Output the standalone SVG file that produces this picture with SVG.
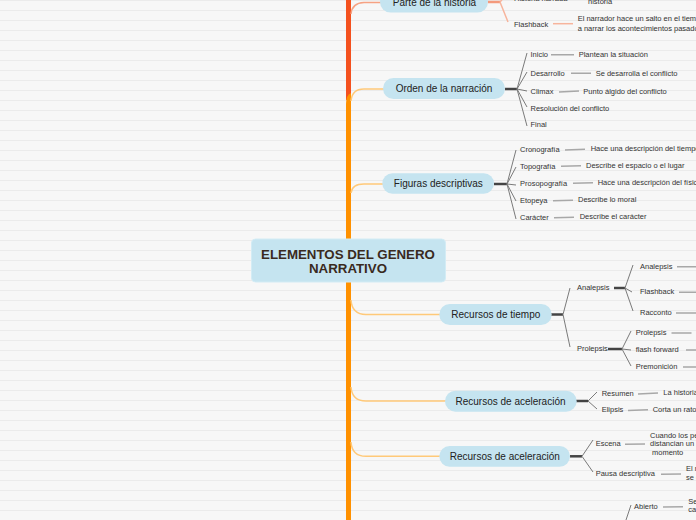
<svg xmlns="http://www.w3.org/2000/svg" width="696" height="520" viewBox="0 0 696 520">
<defs>
<pattern id="bgp" width="696" height="10" patternUnits="userSpaceOnUse"><rect width="696" height="10" fill="#f7f7f7"/><rect width="696" height="1" fill="#ebebeb"/></pattern>
</defs>
<style>
text{font-family:"Liberation Sans",Arial,sans-serif;fill:#333}
.s{font-size:7.5px}
.p{font-size:10px;fill:#222;text-anchor:middle}
.t{font-size:13.3px;font-weight:bold;fill:#3a2a1e;text-anchor:middle}
.pill{fill:#c5e4f0}
.br{fill:none;stroke:#ffc979;stroke-width:1.5}
.brr{fill:none;stroke:#f6a283;stroke-width:1.5}
.thk{fill:none;stroke:#444;stroke-width:2.5}
.fan{fill:none;stroke:#7a7a7a;stroke-width:1}
.dc{fill:none;stroke:#a8a8a8;stroke-width:1.5}
.dcr{fill:none;stroke:#f7b49c;stroke-width:1.5}
</style>
<rect width="696" height="520" fill="url(#bgp)"/>
<g id="connectors">
<rect x="346" y="0" width="5" height="100" fill="#f4511e"/>
<path d="M346,520 L346,104 Q346,95 351,93 L351,520 Z" fill="#ff9100"/>
<path class="brr" d="M351,14 Q352,3 364,2.5 L381,2.5"/>
<path class="br" d="M351,101 Q352,89 364,89 L384,89"/>
<path class="br" d="M351,193 Q352,184 364,184 L383,184"/>
<path class="br" d="M351,300 Q352,314.5 366,314.5 L440,314.5"/>
<path class="br" d="M351,387 Q352,401 366,401 L446,401"/>
<path class="br" d="M351,442 Q352,456.3 366,456.3 L440,456.3"/>
<path d="M488,2 L500,2" fill="none" stroke="#f49a7c" stroke-width="2.5"/>
<path class="dcr" d="M500,2 L508,22 M500,2 L506,-5"/>
<path class="dcr" d="M553,23.7 L573,23.7"/>
<path class="thk" d="M505,89 L517,89"/>
<path class="fan" d="M517,89 L527,53 M517,89 L527,72 M517,89 L527,91 M517,89 L527,107 M517,89 L527,126"/>
<path class="dc" d="M551,54.7 L574,54.7 M571,73.3 L591,73.3 M559,92 L579,91"/>
<path class="thk" d="M494,184 L507,184"/>
<path class="fan" d="M507,184 L516,150 M507,184 L516,167 M507,184 L516,185 M507,184 L516,201 M507,184 L516,219"/>
<path class="dc" d="M565,150 L585,149.3 M561,166.3 L581,165.7 M573,183.3 L593,182.7 M553,200.7 L573,200.3 M554,217.7 L574,217.3"/>
<path class="thk" d="M551,314.5 L563,314.5"/>
<path class="fan" d="M563,314.5 L570,288 M563,314.5 L570,347"/>
<path class="thk" d="M614,288 L625,288"/>
<path class="fan" d="M625,288 L633,265 M625,288 L632,292 M625,288 L633,311"/>
<path class="dc" d="M677,266.7 L696,266.7 M679,292.3 L696,292.3 M676,313 L696,313"/>
<path class="thk" d="M608,349 L622,349"/>
<path class="fan" d="M622,349 L631,331 M622,349 L631,350 M622,349 L631,366"/>
<path class="dc" d="M671.5,333 L691.5,333 M686,350 L696,350 M683,367 L696,367"/>
<path class="thk" d="M576,401 L588,401"/>
<path class="fan" d="M588,401 L597,392 M588,401 L597,409"/>
<path class="dc" d="M638,394 L658,393 M628,410.5 L648,409.8"/>
<path class="thk" d="M570,456.3 L582,456.3"/>
<path class="fan" d="M582,456.3 L593,440 M582,456.3 L593,472"/>
<path class="dc" d="M625,444.3 L645,444 M661,474.3 L681,474"/>
<path class="fan" d="M624,526 L631,505"/>
<path class="dc" d="M663,507 L683,506.7"/>
</g>
<g id="n-main">
<rect x="251.5" y="239" width="194" height="43" rx="4" fill="#c5e4f0" stroke="#d3ecf5" stroke-width="1"/>
<text class="t" x="348" y="258.5">ELEMENTOS DEL GENERO</text>
<text class="t" x="348" y="273">NARRATIVO</text>
</g>
<g id="n-parte">
<rect class="pill" x="380" y="-8.5" width="108" height="21" rx="10.5"/>
<text class="p" x="434.5" y="6">Parte de la historia</text>
<text class="s" x="514" y="1">Historia narrada</text>
<text class="s" x="588" y="4">historia</text>
<text class="s" x="514" y="26.7">Flashback</text>
<text class="s" x="577.7" y="21.3">El narrador hace un salto en el tiempo</text>
<text class="s" x="577.7" y="30.7">a narrar los acontecimientos pasados</text>
</g>
<g id="n-orden">
<rect class="pill" x="383" y="78" width="122" height="21" rx="10.5"/>
<text class="p" x="444" y="92">Orden de la narración</text>
<text class="s" x="530.5" y="56.7">Inicio</text>
<text class="s" x="578.7" y="56.7">Plantean la situación</text>
<text class="s" x="530.5" y="75.7">Desarrollo</text>
<text class="s" x="595.7" y="75.7">Se desarrolla el conflicto</text>
<text class="s" x="530.5" y="93.7">Climax</text>
<text class="s" x="583.3" y="93.5">Punto álgido del conflicto</text>
<text class="s" x="530.5" y="110.7">Resolución del conflicto</text>
<text class="s" x="530.5" y="127.3">Final</text>
</g>
<g id="n-figuras">
<rect class="pill" x="382.3" y="173.3" width="111.7" height="20.5" rx="10.25"/>
<text class="p" x="438.3" y="187">Figuras descriptivas</text>
<text class="s" x="520" y="152.3">Cronografía</text>
<text class="s" x="590.7" y="151.3">Hace una descripción del tiempo</text>
<text class="s" x="520" y="169.3">Topografía</text>
<text class="s" x="586" y="168.3">Describe el espacio o el lugar</text>
<text class="s" x="520" y="186">Prosopografía</text>
<text class="s" x="597.7" y="185.3">Hace una descripción del físico</text>
<text class="s" x="520" y="203.3">Etopeya</text>
<text class="s" x="578" y="202.3">Describe lo moral</text>
<text class="s" x="520" y="220">Carácter</text>
<text class="s" x="579.7" y="219.3">Describe el carácter</text>
</g>
<g id="n-tiempo">
<rect class="pill" x="439.3" y="304" width="112.4" height="21" rx="10.5"/>
<text class="p" x="495.8" y="318">Recursos de tiempo</text>
<text class="s" x="577" y="290.3">Analepsis</text>
<text class="s" x="577" y="351.3">Prolepsis</text>
<text class="s" x="640" y="269.3">Analepsis</text>
<text class="s" x="640" y="294.3">Flashback</text>
<text class="s" x="640" y="315.3">Racconto</text>
<text class="s" x="635.7" y="335.3">Prolepsis</text>
<text class="s" x="635.7" y="352.3">flash forward</text>
<text class="s" x="635.7" y="369">Premonición</text>
</g>
<g id="n-aceleracion1">
<rect class="pill" x="445" y="390.7" width="131.7" height="21" rx="10.5"/>
<text class="p" x="510.5" y="405">Recursos de aceleración</text>
<text class="s" x="601.7" y="395.7">Resumen</text>
<text class="s" x="663.3" y="395.3">La historia se resume</text>
<text class="s" x="601.7" y="412.3">Elipsis</text>
<text class="s" x="652.7" y="412.3">Corta un rato de la historia</text>
</g>
<g id="n-aceleracion2">
<rect class="pill" x="439.3" y="446" width="130.7" height="20.7" rx="10.35"/>
<text class="p" x="504.8" y="460.3">Recursos de aceleración</text>
<text class="s" x="595.7" y="446.3">Escena</text>
<text class="s" x="650" y="437.5">Cuando los personajes</text>
<text class="s" x="650" y="446.3">distancian un</text>
<text class="s" x="652" y="454.5">momento</text>
<text class="s" x="595.7" y="476.3">Pausa descriptiva</text>
<text class="s" x="686" y="471">El narrador</text>
<text class="s" x="686" y="479.5">se detiene</text>
</g>
<g id="n-final">
<text class="s" x="634" y="509.3">Abierto</text>
<text class="s" x="688.3" y="503.5">Se</text>
<text class="s" x="688.3" y="512">ca</text>
</g>
</svg>
